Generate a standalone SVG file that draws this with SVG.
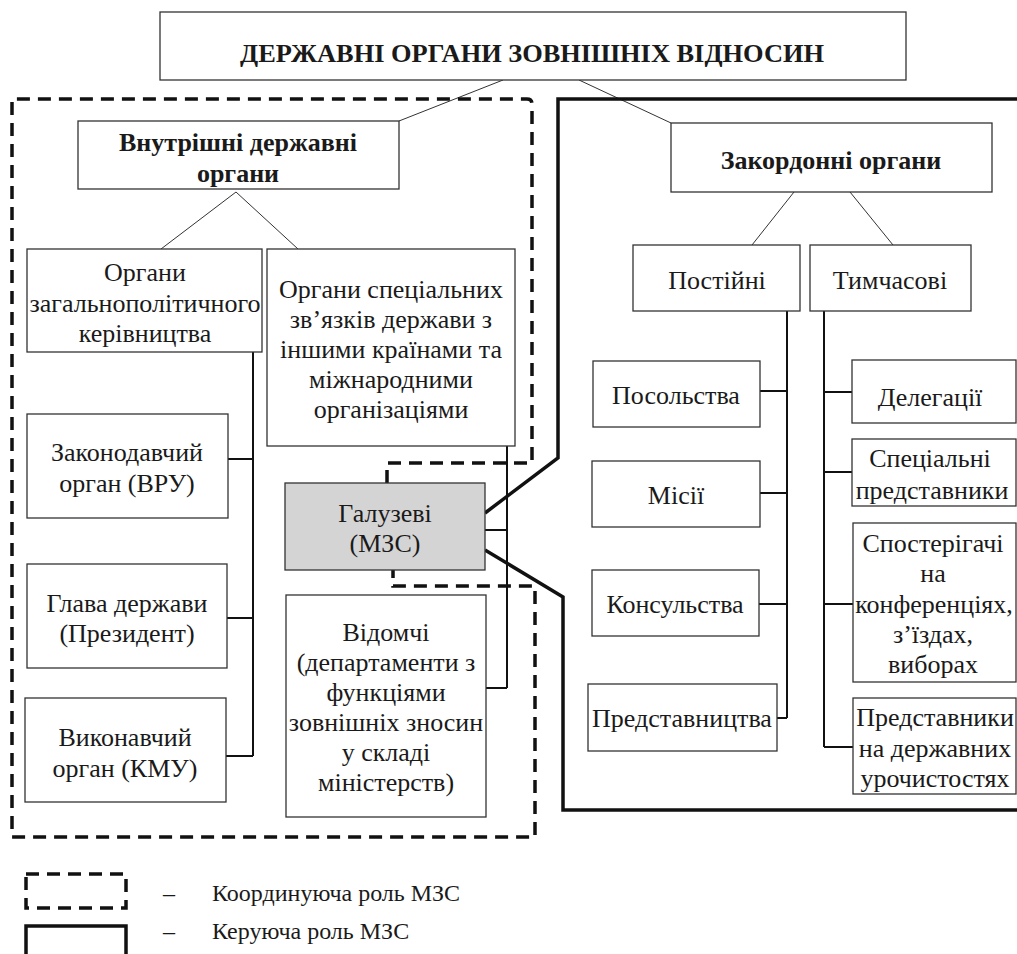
<svg xmlns="http://www.w3.org/2000/svg" width="1017" height="954" viewBox="0 0 1017 954" font-family="'Liberation Serif', 'Times New Roman', 'DejaVu Serif', serif">
<style>
  .box { fill: #ffffff; stroke: #333333; stroke-width: 1.3; }
  .grey { fill: #d4d4d4; stroke: #333333; stroke-width: 1.3; }
  .t { font-family: 'Liberation Serif', 'Times New Roman', 'DejaVu Serif', serif; font-size: 26px; fill: #1a1a1a; text-anchor: middle; }
  .b { font-weight: bold; }
  .lg { font-size: 24px; text-anchor: start; }
  .thin { fill: none; stroke: #333333; stroke-width: 1; }
  .bus { fill: none; stroke: #111111; stroke-width: 2; }
  .coord { fill: none; stroke: #111111; stroke-width: 3.5; stroke-dasharray: 13 8; }
  .ctrl { fill: none; stroke: #111111; stroke-width: 3.5; }
</style>
<rect width="1017" height="954" fill="#ffffff"/>

<g id="connectors">
  <path class="thin" d="M503,80 L399,121 M579,80 L671,123"/>
  <path class="thin" d="M161,249 L236,192 L298,249"/>
  <path class="thin" d="M752,245 L794,192 M850,192 L893,245"/>
  <path class="bus" d="M253,352 V756 M228,459 H253 M227,618 H253 M226,756 H253"/>
  <path class="bus" d="M507,446 V688 M485,530 H507 M486,688 H507"/>
  <path class="bus" d="M787,311 V718 M760,391 H787 M760,493 H787 M759,604 H787 M777,718 H787"/>
  <path class="bus" d="M824,311 V747 M824,392 H852 M824,472 H852 M824,604 H853 M824,747 H853"/>
</g>

<g id="role-coordinating">
  <path class="coord" d="M387,483 V463 H532 V104 Q532,99 527,99 H12 V837 H535 V586 H393 V570"/>
</g>
<g id="role-controlling">
  <path class="ctrl" d="M1020,99 H558 V458 L485,513"/>
  <path class="ctrl" d="M485,550 L563,597 V810 H1020"/>
</g>

<g id="n-top">
  <rect class="box" x="160" y="12" width="746" height="68"/>
  <text class="t b" x="532" y="62" font-size="27" textLength="584" lengthAdjust="spacingAndGlyphs">ДЕРЖАВНІ ОРГАНИ ЗОВНІШНІХ ВІДНОСИН</text>
</g>
<g id="n-internal">
  <rect class="box" x="78" y="121" width="321" height="68"/>
  <text class="t b" x="238" y="151">Внутрішні державні</text>
  <text class="t b" x="238" y="182">органи</text>
</g>
<g id="n-foreign">
  <rect class="box" x="671" y="123" width="321" height="69"/>
  <text class="t b" x="831" y="169">Закордонні органи</text>
</g>
<g id="n-general">
  <rect class="box" x="27" y="249" width="235" height="103"/>
  <text class="t" x="145" y="281">Органи</text>
  <text class="t" x="145" y="312">загальнополітичного</text>
  <text class="t" x="145" y="342">керівництва</text>
</g>
<g id="n-special">
  <rect class="box" x="267" y="249" width="248" height="197"/>
  <text class="t" x="391" y="298">Органи спеціальних</text>
  <text class="t" x="391" y="328">зв’язків держави з</text>
  <text class="t" x="391" y="358">іншими країнами та</text>
  <text class="t" x="391" y="388">міжнародними</text>
  <text class="t" x="391" y="418">організаціями</text>
</g>
<g id="n-legislative">
  <rect class="box" x="27" y="414" width="201" height="104"/>
  <text class="t" x="127" y="461">Законодавчий</text>
  <text class="t" x="127" y="492">орган (ВРУ)</text>
</g>
<g id="n-head">
  <rect class="box" x="27" y="564" width="200" height="104"/>
  <text class="t" x="127" y="612">Глава держави</text>
  <text class="t" x="127" y="642">(Президент)</text>
</g>
<g id="n-executive">
  <rect class="box" x="25" y="698" width="201" height="104"/>
  <text class="t" x="125" y="746">Виконавчий</text>
  <text class="t" x="125" y="777">орган (КМУ)</text>
</g>
<g id="n-mfa">
  <rect class="grey" x="285" y="483" width="200" height="87"/>
  <text class="t" x="385" y="522">Галузеві</text>
  <text class="t" x="385" y="552">(МЗС)</text>
</g>
<g id="n-departmental">
  <rect class="box" x="286" y="595" width="200" height="222"/>
  <text class="t" x="386" y="641">Відомчі</text>
  <text class="t" x="386" y="671">(департаменти з</text>
  <text class="t" x="386" y="701">функціями</text>
  <text class="t" x="386" y="731">зовнішніх зносин</text>
  <text class="t" x="386" y="761">у складі</text>
  <text class="t" x="386" y="791">міністерств)</text>
</g>
<g id="n-permanent">
  <rect class="box" x="633" y="245" width="167" height="66"/>
  <text class="t" x="717" y="289">Постійні</text>
</g>
<g id="n-temporary">
  <rect class="box" x="810" y="245" width="161" height="66"/>
  <text class="t" x="890" y="289">Тимчасові</text>
</g>
<g id="n-embassies">
  <rect class="box" x="593" y="361" width="167" height="66"/>
  <text class="t" x="676" y="404">Посольства</text>
</g>
<g id="n-missions">
  <rect class="box" x="592" y="461" width="168" height="66"/>
  <text class="t" x="676" y="504">Місії</text>
</g>
<g id="n-consulates">
  <rect class="box" x="592" y="570" width="167" height="66"/>
  <text class="t" x="675" y="613">Консульства</text>
</g>
<g id="n-representations">
  <rect class="box" x="588" y="684" width="189" height="67"/>
  <text class="t" x="682" y="727">Представництва</text>
</g>
<g id="n-delegations">
  <rect class="box" x="852" y="360" width="164" height="63"/>
  <text class="t" x="930" y="406">Делегації</text>
</g>
<g id="n-special-reps">
  <rect class="box" x="852" y="439" width="164" height="67"/>
  <text class="t" x="930" y="467">Спеціальні</text>
  <text class="t" x="932" y="499">представники</text>
</g>
<g id="n-observers">
  <rect class="box" x="853" y="523" width="163" height="159"/>
  <text class="t" x="933" y="552">Спостерігачі</text>
  <text class="t" x="933" y="582">на</text>
  <text class="t" x="934" y="613">конференціях,</text>
  <text class="t" x="933" y="643">з’їздах,</text>
  <text class="t" x="933" y="673">виборах</text>
</g>
<g id="n-ceremony-reps">
  <rect class="box" x="853" y="698" width="163" height="96"/>
  <text class="t" x="935" y="726">Представники</text>
  <text class="t" x="935" y="757">на державних</text>
  <text class="t" x="935" y="787">урочистостях</text>
</g>

<g id="legend">
  <rect class="coord" x="26" y="874" width="100" height="34"/>
  <rect class="ctrl" x="26" y="926" width="100" height="40"/>
  <text class="t lg" x="163" y="901">–</text>
  <text class="t lg" x="212" y="901">Координуюча роль МЗС</text>
  <text class="t lg" x="163" y="939">–</text>
  <text class="t lg" x="212" y="939">Керуюча роль МЗС</text>
</g>
</svg>
